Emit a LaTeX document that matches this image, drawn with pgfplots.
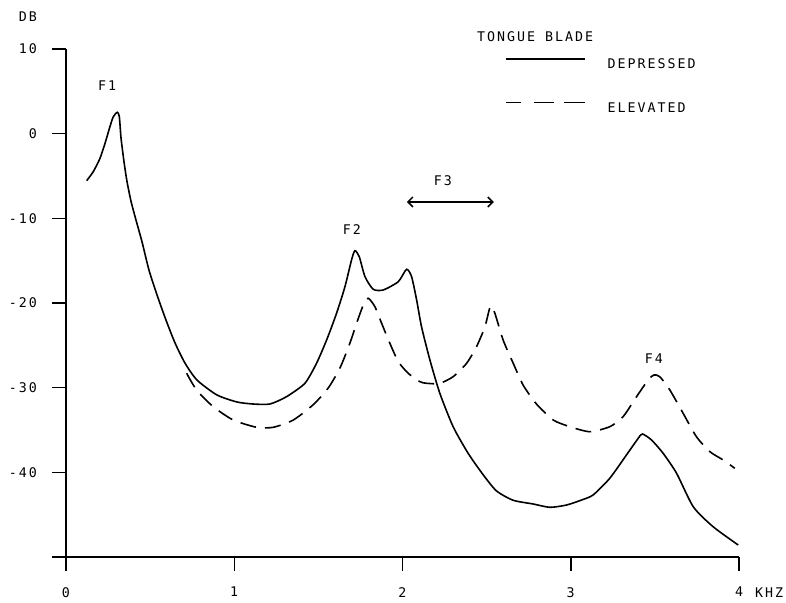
\documentclass[border=0pt]{standalone}
\usepackage{pgfplots}
\pgfplotsset{compat=1.18}
\usepackage{fontspec}
\setmainfont{DejaVu Sans Mono}[LetterSpace=15]
\usetikzlibrary{arrows.meta}
\newcommand{\myfont}{\fontsize{13.3bp}{16bp}\selectfont}
\pgfplotsset{dashlegend/.style={legend image code/.code={\draw[##1, dash pattern=on 15bp off 13bp on 20bp off 10bp on 21bp off 5bp] (0bp,4.8bp) -- (79bp,4.8bp);}}}
\begin{document}
\begin{tikzpicture}[font=\myfont]
\path[use as bounding box] (0,0) rectangle (786bp,-603bp);
\begin{axis}[
  at={(66bp,-557bp)}, anchor=south west,
  scale only axis, width=673bp, height=508bp,
  xmin=0, xmax=4, ymin=-50, ymax=10,
  axis lines=left, axis line style={-, line width=1.5bp},
  tick style={line width=1.5bp, black},
  major tick length=14bp, tick align=outside,
  xtick={0,1,2,3,4}, xticklabels={0,1,2,3,4},
  ytick={-50,-40,-30,-20,-10,0,10}, yticklabels={,-40,-30,-20,-10,0,10},
  xticklabel style={font=\myfont, inner sep=0pt, yshift=-16bp},
  yticklabel style={font=\myfont, inner sep=0pt, xshift=-15bp},
  clip=false,
  legend image code/.code={\draw[#1] (0bp,4.8bp) -- (79bp,4.8bp);},
  legend style={draw=none, fill=none, inner sep=0pt, font=\myfont,
    at={(axis cs:2.608,8.94)}, anchor=north west, row sep=33bp,
    nodes={inner sep=0pt, text height=10bp, text depth=0pt},
    /tikz/every odd column/.append style={column sep=22bp}},
  legend cell align=left,
]
\addplot[black, line width=1.6bp, smooth, tension=0.4] coordinates {
(0.123,-5.55) (0.162,-4.49) (0.202,-2.91) (0.232,-1.14) (0.261,0.82)
(0.281,2.0) (0.305,2.52) (0.317,2.0) (0.327,-0.51) (0.345,-3.35)
(0.362,-5.59) (0.386,-7.95) (0.416,-10.2) (0.452,-12.79) (0.493,-16.1)
(0.541,-19.05) (0.594,-22.0) (0.648,-24.72) (0.707,-27.09) (0.778,-29.09)
(0.897,-30.86) (1.016,-31.69) (1.113,-31.93)
(1.212,-31.93) (1.311,-31.06) (1.420,-29.48) (1.489,-27.12) (1.549,-24.37)
(1.608,-21.22) (1.658,-18.07) (1.697,-14.92) (1.717,-13.82) (1.743,-14.53)
(1.777,-16.89) (1.826,-18.38) (1.886,-18.46) (1.975,-17.48) (2.024,-16.02)
(2.054,-16.89) (2.084,-19.64) (2.113,-22.8) (2.163,-26.73) (2.222,-30.67)
(2.301,-34.61) (2.390,-37.75) (2.480,-40.3) (2.559,-42.2) (2.658,-43.3)
(2.777,-43.74) (2.876,-44.13) (2.975,-43.86) (3.064,-43.27) (3.133,-42.67)
(3.232,-40.7) (3.331,-37.95) (3.401,-35.98) (3.426,-35.47) (3.480,-36.18)
(3.549,-37.75) (3.629,-40.11) (3.728,-44.06) (3.846,-46.42) (3.995,-48.58)
};
\addlegendentry{DEPRESSED}
\addplot[black, line width=1.6bp, smooth, tension=0.4, dash pattern=on 16bp off 9bp, dashlegend] coordinates {
(0.717,-28.3) (0.776,-30.27) (0.875,-32.25) (0.994,-33.82) (1.133,-34.68)
(1.232,-34.68) (1.351,-33.82) (1.470,-32.0) (1.560,-30.0) (1.630,-27.6)
(1.687,-24.76) (1.727,-22.4) (1.767,-20.24) (1.796,-19.44) (1.836,-20.43)
(1.876,-22.4) (1.925,-24.76) (1.975,-26.93) (2.034,-28.3) (2.103,-29.29)
(2.143,-29.48) (2.220,-29.5) (2.301,-28.7) (2.381,-27.12) (2.440,-25.16)
(2.490,-22.8) (2.523,-20.35) (2.549,-21.22) (2.598,-24.37) (2.658,-27.12)
(2.717,-29.7) (2.797,-31.95) (2.896,-33.82) (2.995,-34.61) (3.113,-35.2)
(3.232,-34.61) (3.311,-33.43) (3.391,-31.06) (3.460,-29.09) (3.494,-28.5)
(3.529,-28.7) (3.589,-30.27) (3.668,-33.03) (3.747,-35.79) (3.827,-37.56)
(3.906,-38.54) (3.975,-39.52)
};
\addlegendentry{ELEVATED}
\node[anchor=west, inner sep=0pt] at (axis cs:2.442,11.42) {TONGUE BLADE};
\node[inner sep=0pt] at (axis cs:0.244,5.63) {F1};
\node[inner sep=0pt] at (axis cs:1.699,-11.38) {F2};
\node[inner sep=0pt] at (axis cs:2.240,-5.59) {F3};
\node[inner sep=0pt] at (axis cs:3.494,-26.61) {F4};
\draw[{Straight Barb[length=5bp,width=10bp]}-{Straight Barb[length=5bp,width=10bp]}, line width=1.5bp] (axis cs:2.026,-8.07) -- (axis cs:2.543,-8.07);
\node[inner sep=0pt] at (axis cs:-0.226,13.78) {DB};
\node[anchor=west, inner sep=0pt] at (axis cs:4.094,-54.25) {KHZ};
\end{axis}
\end{tikzpicture}
\end{document}
